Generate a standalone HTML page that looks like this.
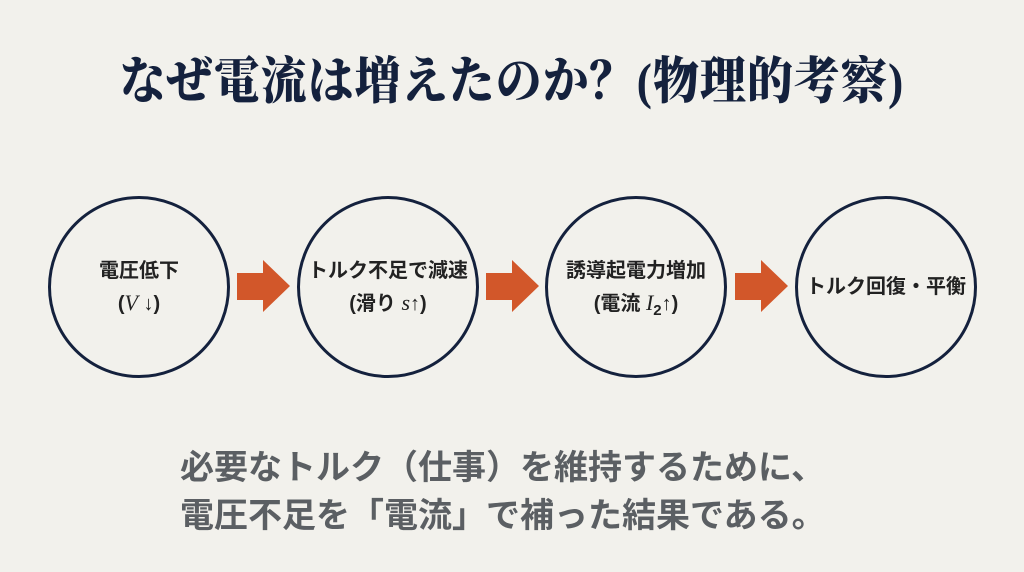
<!DOCTYPE html>
<html><head><meta charset="utf-8"><style>
html,body{margin:0;padding:0}
body{width:1024px;height:572px;background:#f2f1ec;position:relative;overflow:hidden;font-family:"Liberation Sans","Noto Sans CJK JP",sans-serif}
.title{position:absolute;left:0;width:1024px;top:50px;text-align:center;font-family:"Liberation Serif","Noto Serif CJK SC",serif;font-weight:900;font-size:46px;line-height:56px;color:#14213d;letter-spacing:1px;transform:scaleY(1.1);white-space:nowrap}
.c{position:absolute;width:176px;height:176px;border:3px solid #14213d;border-radius:50%;top:196px;display:flex;align-items:center;justify-content:center;text-align:center;font-weight:bold;font-size:20px;line-height:32px;color:#222;white-space:nowrap}
.m{font-family:"Liberation Serif",serif;font-style:italic;font-weight:normal;font-size:22px}
.bottom{position:absolute;left:180px;top:444px;font-weight:bold;font-size:34px;line-height:48px;color:#5b5f63;white-space:nowrap}
</style></head><body>
<div class="title">なぜ電流は増えたのか<span style="font-family:'Noto Serif CJK SC',serif">？</span>(物理的考察)</div>
<div class="c" style="left:48px"><div>電圧低下<br>(<span class="m">V</span> ↓)</div></div>
<div class="c" style="left:297px"><div>トルク不足で減速<br>(滑り <span class="m">s</span>↑)</div></div>
<div class="c" style="left:545px"><div>誘導起電力増加<br>(電流 <span class="m">I</span><sub style="font-size:15px;line-height:0">2</sub>↑)</div></div>
<div class="c" style="left:795px"><div>トルク回復・平衡</div></div>
<svg width="1024" height="572" style="position:absolute;left:0;top:0">
<g fill="#d2572a">
<polygon points="237,273 263,273 263,260 290,286 263,312 263,300 237,300"/>
<polygon points="486,273 512,273 512,260 539,286 512,312 512,300 486,300"/>
<polygon points="735,273 761,273 761,260 788,286 761,312 761,300 735,300"/>
</g></svg>
<div class="bottom">必要なトルク（仕事）を維持するために、<br>電圧不足を「電流」で補った結果である。</div>
</body></html>
